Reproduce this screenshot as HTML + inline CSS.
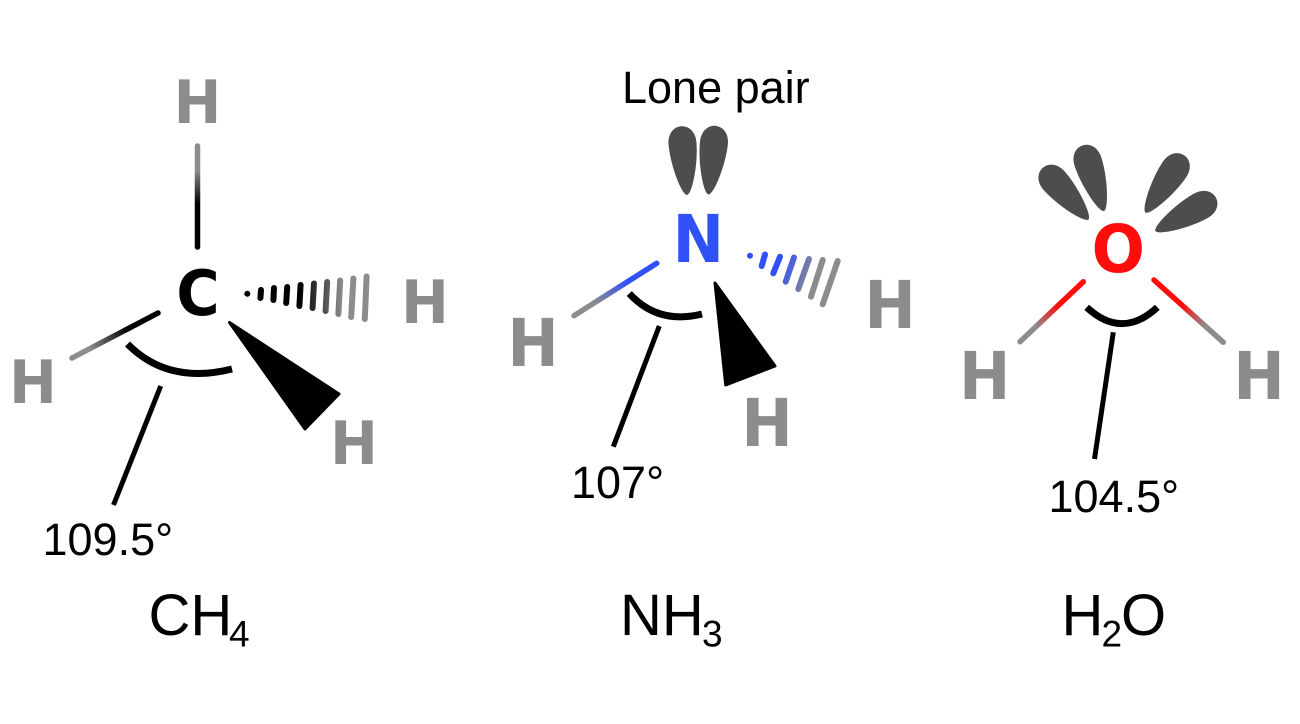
<!DOCTYPE html>
<html>
<head>
<meta charset="utf-8">
<style>
html,body{margin:0;padding:0;background:#fff;}
svg{display:block;}
.a{font-family:"DejaVu Sans",sans-serif;font-weight:bold;text-anchor:middle;}
.h{fill:#8c8c8c;}
.l{font-family:"Liberation Sans",sans-serif;font-size:45px;fill:#000;}
.f{font-family:"Liberation Sans",sans-serif;font-size:58px;fill:#000;}
.s{font-family:"Liberation Sans",sans-serif;font-size:37px;fill:#000;}
.b{fill:none;stroke-width:5.5;stroke-linecap:round;}
.arc{fill:none;stroke:#000;stroke-width:7;}
.ld{stroke:#000;stroke-width:5;fill:none;}
.lobe{fill:#4d4d4d;}
</style>
</head>
<body>
<svg width="1300" height="724" viewBox="0 0 1300 724" xmlns="http://www.w3.org/2000/svg">
<defs>
<linearGradient id="g1" gradientUnits="userSpaceOnUse" x1="197.5" y1="247" x2="197.5" y2="145"><stop offset="0.42" stop-color="#000"/><stop offset="0.75" stop-color="#8c8c8c"/></linearGradient>
<linearGradient id="g2" gradientUnits="userSpaceOnUse" x1="158" y1="313" x2="72" y2="358"><stop offset="0.35" stop-color="#000"/><stop offset="0.8" stop-color="#8c8c8c"/></linearGradient>
<linearGradient id="g3" gradientUnits="userSpaceOnUse" x1="247" y1="0" x2="366" y2="0"><stop offset="0.45" stop-color="#000"/><stop offset="0.8" stop-color="#8c8c8c"/></linearGradient>
<linearGradient id="g4" gradientUnits="userSpaceOnUse" x1="656.7" y1="263.3" x2="574" y2="315.7"><stop offset="0.35" stop-color="#3050f8"/><stop offset="0.75" stop-color="#8c8c8c"/></linearGradient>
<linearGradient id="g5" gradientUnits="userSpaceOnUse" x1="750" y1="256" x2="830" y2="285"><stop offset="0.35" stop-color="#3050f8"/><stop offset="0.8" stop-color="#8c8c8c"/></linearGradient>
<linearGradient id="g6" gradientUnits="userSpaceOnUse" x1="1083.3" y1="281.7" x2="1020" y2="341.7"><stop offset="0.4" stop-color="#ff0d0d"/><stop offset="0.75" stop-color="#8c8c8c"/></linearGradient>
<linearGradient id="g7" gradientUnits="userSpaceOnUse" x1="1154" y1="280" x2="1223.3" y2="342.3"><stop offset="0.4" stop-color="#ff0d0d"/><stop offset="0.75" stop-color="#8c8c8c"/></linearGradient>
<path id="lb" d="M0,0 C-5,0 -14,-30 -14,-52 C-14,-62 -8,-69 0,-69 C8,-69 14,-62 14,-52 C14,-30 5,0 0,0 Z"/>
</defs>

<!-- CH4 -->
<line class="b" x1="197.5" y1="247" x2="197.5" y2="146" stroke="url(#g1)"/>
<line class="b" x1="158" y1="313" x2="72" y2="358" stroke="url(#g2)"/>
<g class="b" stroke="url(#g3)" style="stroke-width:6">
<line x1="247.3" y1="293.7" x2="247.3" y2="293.8"/>
<line x1="261" y1="290" x2="260.4" y2="298"/>
<line x1="274" y1="288" x2="273.4" y2="300"/>
<line x1="287.2" y1="287" x2="286.2" y2="303"/>
<line x1="300.6" y1="285" x2="299.4" y2="306"/>
<line x1="314" y1="283.5" x2="312.6" y2="308"/>
<line x1="327.2" y1="282" x2="325.6" y2="311"/>
<line x1="340.2" y1="280.5" x2="338.4" y2="314"/>
<line x1="353.4" y1="278.5" x2="351.2" y2="317"/>
<line x1="366.6" y1="276.5" x2="364.8" y2="319"/>
</g>
<path d="M229.5,322.5 L339,394 L305,429 Z" fill="#000" stroke="#000" stroke-width="3" stroke-linejoin="round"/>
<path class="arc" d="M127.5,344 Q168,385 232,369"/>
<line class="ld" x1="160.7" y1="386" x2="113.5" y2="505"/>
<text class="a h" transform="translate(197.5,123) scale(.95,1)" font-size="60">H</text>
<text class="a" transform="translate(198,315) scale(.95,1)" font-size="62" fill="#000">C</text>
<text class="a h" transform="translate(33,403) scale(.95,1)" font-size="60">H</text>
<text class="a h" transform="translate(354,464) scale(.95,1)" font-size="60">H</text>
<text class="a h" transform="translate(425,323) scale(.95,1)" font-size="60">H</text>
<text class="l" x="42.5" y="555">109.5°</text>
<text class="f" x="148.5" y="635">CH</text>
<text class="s" x="229" y="646.5">4</text>

<!-- NH3 -->
<text class="l" x="622" y="103">Lone pair</text>
<use href="#lb" class="lobe" transform="translate(687,195) rotate(-5)"/>
<use href="#lb" class="lobe" transform="translate(708.5,194.5) rotate(6)"/>
<line class="b" x1="656.7" y1="263.3" x2="574" y2="315.7" stroke="url(#g4)"/>
<g class="b" stroke="url(#g5)" style="stroke-width:6">
<line x1="750" y1="255.7" x2="750" y2="255.8"/>
<line x1="765" y1="254.5" x2="761.7" y2="266"/>
<line x1="780" y1="256.7" x2="773.3" y2="273.3"/>
<line x1="794" y1="257.5" x2="785.7" y2="281.7"/>
<line x1="809" y1="259" x2="798.3" y2="289"/>
<line x1="822.7" y1="260" x2="811" y2="296.7"/>
<line x1="837.7" y1="261" x2="822.7" y2="304.3"/>
</g>
<path d="M715,283 L775,366 L725.7,385 Z" fill="#000" stroke="#000" stroke-width="3" stroke-linejoin="round"/>
<path class="arc" d="M629.3,293.5 Q658,325 702,314"/>
<line class="ld" x1="659.3" y1="326" x2="613.3" y2="446.7"/>
<text class="a" transform="translate(698.3,262) scale(.93,1)" font-size="66" fill="#3050f8">N</text>
<text class="a h" transform="translate(533,366) scale(.93,1)" font-size="66">H</text>
<text class="a h" transform="translate(890,328) scale(.93,1)" font-size="66">H</text>
<text class="a h" transform="translate(767,446) scale(.93,1)" font-size="66">H</text>
<text class="l" x="571" y="498">107°</text>
<text class="f" x="620" y="635">NH</text>
<text class="s" x="702" y="646.5">3</text>

<!-- H2O -->
<use href="#lb" class="lobe" transform="translate(1088.5,219.5) rotate(-41.5)"/>
<use href="#lb" class="lobe" transform="translate(1104,211) rotate(-18)"/>
<use href="#lb" class="lobe" transform="translate(1145.5,212.5) rotate(34)"/>
<use href="#lb" class="lobe" transform="translate(1155.5,231) rotate(61)"/>
<line class="b" x1="1083.3" y1="281.7" x2="1020" y2="341.7" stroke="url(#g6)"/>
<line class="b" x1="1154" y1="280" x2="1223.3" y2="342.3" stroke="url(#g7)"/>
<path class="arc" d="M1086.7,307.3 Q1122,340 1157.3,307.3"/>
<line class="ld" x1="1113.3" y1="332.3" x2="1094.5" y2="459"/>
<text class="a" transform="translate(1118.3,272) scale(.95,1)" font-size="66" fill="#ff0d0d">O</text>
<text class="a h" transform="translate(984.7,399) scale(.93,1)" font-size="66">H</text>
<text class="a h" transform="translate(1259,399) scale(.93,1)" font-size="66">H</text>
<text class="l" x="1048.5" y="512">104.5°</text>
<text class="f" x="1061.5" y="635">H</text>
<text class="s" x="1101.5" y="646.5">2</text>
<text class="f" x="1121" y="635">O</text>
</svg>
</body>
</html>
